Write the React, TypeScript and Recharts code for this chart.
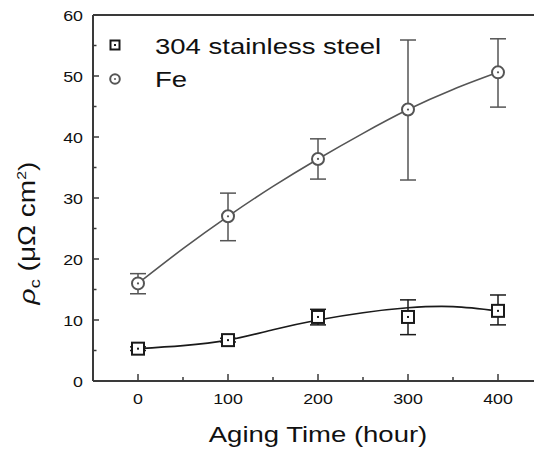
import React from "react";
import {
  ComposedChart,
  Line,
  Scatter,
  XAxis,
  YAxis,
  ErrorBar,
  ReferenceLine,
} from "recharts";

// Contact resistivity vs. aging time
const hours = [0, 100, 200, 300, 400];
const steelRho = [5.3, 6.7, 10.5, 10.5, 11.5];
const steelErrLow = [0.3, 0.3, 1.3, 2.9, 2.3];
const steelErrHigh = [0.3, 0.3, 1.25, 2.8, 2.6];
const feRho = [16.0, 27.0, 36.4, 44.5, 50.6];
const feErrLow = [1.7, 4.0, 3.3, 11.55, 5.7];
const feErrHigh = [1.6, 3.8, 3.3, 11.4, 5.5];

// Fitted trend curves
const fitHours = [0, 50, 100, 150, 200, 250, 300, 350, 400];
const steelFit = [5.3, 5.8, 6.7, 8.4, 10.0, 11.2, 12.0, 12.2, 11.5];
const feFit = [16.0, 21.7, 27.0, 31.9, 36.4, 40.6, 44.5, 47.8, 50.6];

const xTicks = [0, 50, 100, 150, 200, 250, 300, 350, 400];
const yTicks = [0, 5, 10, 15, 20, 25, 30, 35, 40, 45, 50, 55, 60];

const seriesNames = ["304 stainless steel", "Fe"];

const FONT = "'Liberation Sans', Arial, Helvetica, sans-serif";
const STEEL = "#1a1a1a";
const FE = "#555555";
const AXIS = "#3a3a3a";

const steelPoints = hours.map((h, i) => ({
  x: h,
  y: steelRho[i],
  err: [steelErrLow[i], steelErrHigh[i]],
}));
const fePoints = hours.map((h, i) => ({
  x: h,
  y: feRho[i],
  err: [feErrLow[i], feErrHigh[i]],
}));
const steelFitData = fitHours.map((h, i) => ({ x: h, y: steelFit[i] }));
const feFitData = fitHours.map((h, i) => ({ x: h, y: feFit[i] }));

const XTick = (props: any) => {
  const { x, y, payload } = props;
  const v = payload.value as number;
  const major = v % 100 === 0;
  return (
    <g>
      <line x1={x} x2={x} y1={y} y2={y - (major ? 7 : 4)} stroke={AXIS} strokeWidth={1.5} />
      {major && (
        <text
          transform={`translate(${x},${y + 23}) scale(1.15,1)`}
          textAnchor="middle"
          fontSize={15.5}
          fontFamily={FONT}
          fill="#111"
        >
          {v}
        </text>
      )}
    </g>
  );
};

const YTick = (props: any) => {
  const { x, y, payload } = props;
  const v = payload.value as number;
  const major = v % 10 === 0;
  return (
    <g>
      <line x1={x} x2={x + (major ? 6 : 3.5)} y1={y} y2={y} stroke={AXIS} strokeWidth={1.5} />
      {major && (
        <text
          transform={`translate(${x - 10},${y + 5.5}) scale(1.15,1)`}
          textAnchor="end"
          fontSize={15.5}
          fontFamily={FONT}
          fill="#111"
        >
          {v}
        </text>
      )}
    </g>
  );
};

const SquareMark = (props: any) => {
  const { cx, cy } = props;
  return (
    <g>
      <rect x={cx - 6} y={cy - 6} width={12} height={12} fill="#fff" stroke={STEEL} strokeWidth={2} />
      <rect x={cx - 1} y={cy - 1} width={2} height={2} fill={STEEL} />
    </g>
  );
};

const CircleMark = (props: any) => {
  const { cx, cy } = props;
  return (
    <g>
      <circle cx={cx} cy={cy} r={6} fill="#fff" stroke={FE} strokeWidth={2} />
      <circle cx={cx} cy={cy} r={1.1} fill={FE} />
    </g>
  );
};

// Series key drawn in the upper-left corner of the plot
const LegendBox = () => (
  <svg
    width={400}
    height={100}
    style={{ position: "absolute", left: 0, top: 0, display: "block", pointerEvents: "none" }}
  >
    <rect x={110.5} y={40.5} width={9} height={9} fill="#fff" stroke={STEEL} strokeWidth={2} />
    <rect x={114} y={44} width={2} height={2} fill={STEEL} />
    <circle cx={115} cy={79} r={4.8} fill="#fff" stroke={FE} strokeWidth={2} />
    <circle cx={115} cy={79} r={1} fill={FE} />
    <text transform="translate(155,53.5) scale(1.25,1)" fontSize={22} fontFamily={FONT} fill="#111">
      {seriesNames[0]}
    </text>
    <text transform="translate(155,87) scale(1.25,1)" fontSize={22} fontFamily={FONT} fill="#111">
      {seriesNames[1]}
    </text>
  </svg>
);

const XTitle = () => (
  <text
    transform="translate(318,442) scale(1.25,1)"
    textAnchor="middle"
    fontSize={22}
    fontFamily={FONT}
    fill="#111"
  >
    Aging Time (hour)
  </text>
);

const YTitle = () => (
  <text
    transform="translate(35,233) rotate(-90) scale(1.22,1)"
    textAnchor="middle"
    fontSize={23}
    fontFamily={FONT}
    fill="#111"
  >
    <tspan fontStyle="italic">ρ</tspan>
    <tspan fontSize={15} dy={5}>c</tspan>
    <tspan dy={-5}> (μΩ cm</tspan>
    <tspan fontSize={13} dy={-9}>2</tspan>
    <tspan dy={9}>)</tspan>
  </text>
);

export default function App() {
  return (
    <div
      style={{
        position: "absolute",
        left: 0,
        top: 0,
        width: 534,
        height: 453,
        overflow: "hidden",
        background: "#fff",
      }}
    >
      <ComposedChart
        width={543}
        height={453}
        margin={{ top: 15, right: 0, bottom: 0, left: 0 }}
      >
        <XAxis
          dataKey="x"
          type="number"
          domain={[-50, 450]}
          ticks={xTicks}
          height={72}
          tickSize={0}
          tickMargin={0}
          tick={<XTick />}
          axisLine={{ stroke: AXIS, strokeWidth: 2 }}
          allowDataOverflow
          label={<XTitle />}
        />
        <YAxis
          dataKey="y"
          type="number"
          domain={[0, 60]}
          ticks={yTicks}
          width={93}
          tickSize={0}
          tickMargin={0}
          tick={<YTick />}
          axisLine={{ stroke: AXIS, strokeWidth: 2 }}
          allowDataOverflow
          label={<YTitle />}
        />
        <ReferenceLine y={60} stroke={AXIS} strokeWidth={2} />
        <Line
          data={steelFitData}
          dataKey="y"
          type="natural"
          stroke={STEEL}
          strokeWidth={1.6}
          dot={false}
          activeDot={false}
          isAnimationActive={false}
        />
        <Line
          data={feFitData}
          dataKey="y"
          type="natural"
          stroke={FE}
          strokeWidth={1.6}
          dot={false}
          activeDot={false}
          isAnimationActive={false}
        />
        <Scatter
          name={seriesNames[0]}
          data={steelPoints}
          dataKey="y"
          shape={SquareMark}
          isAnimationActive={false}
        >
          <ErrorBar dataKey="err" direction="y" width={8} stroke={STEEL} strokeWidth={1.5} />
        </Scatter>
        <Scatter
          name={seriesNames[1]}
          data={fePoints}
          dataKey="y"
          shape={CircleMark}
          isAnimationActive={false}
        >
          <ErrorBar dataKey="err" direction="y" width={8} stroke={FE} strokeWidth={1.5} />
        </Scatter>
      </ComposedChart>
      <LegendBox />
    </div>
  );
}
